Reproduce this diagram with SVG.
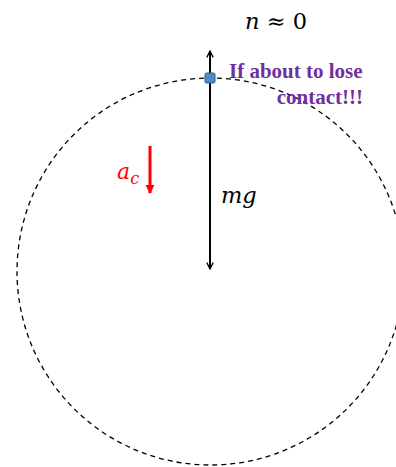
<svg xmlns="http://www.w3.org/2000/svg" width="396" height="467" viewBox="0 0 396 467">
<style>
.math{font-family:"DejaVu Serif","Liberation Serif",serif;font-style:italic}
.note{font-family:"Liberation Serif",serif;font-weight:bold;font-size:21px;fill:#7030A0}
</style>
<defs>
<marker id="chev" viewBox="0 0 10 10" refX="9" refY="5" markerWidth="8" markerHeight="8" orient="auto" markerUnits="userSpaceOnUse">
<path d="M1,1 L9,5 L1,9" fill="none" stroke="#000" stroke-width="1.6"/>
</marker>
<marker id="redhead" viewBox="0 0 10 10" refX="9" refY="5" markerWidth="9" markerHeight="9" orient="auto" markerUnits="userSpaceOnUse">
<path d="M0,0 L10,5 L0,10 Z" fill="#FF0000"/>
</marker>
</defs>
<g id="path-circle">
<circle cx="210.5" cy="271.5" r="193.5" fill="none" stroke="#000" stroke-width="1.3" stroke-dasharray="5,4"/>
</g>
<g id="connectors">
<line x1="210" y1="78" x2="210" y2="51" stroke="#000" stroke-width="2" marker-end="url(#chev)"/>
<line x1="210" y1="78" x2="210" y2="269" stroke="#000" stroke-width="2" marker-end="url(#chev)"/>
<line x1="150" y1="146" x2="150" y2="193" stroke="#FF0000" stroke-width="3" marker-end="url(#redhead)"/>
</g>
<g id="object">
<rect x="205" y="73" width="10" height="10" rx="1.5" fill="#4F8BC9" stroke="#2F5D8F" stroke-width="1"/>
</g>
<g id="label-n">
<text x="245" y="29" class="math" font-size="22.5" fill="#000">n <tspan font-style="normal">≈ 0</tspan></text>
</g>
<g id="label-note">
<text x="229" y="78" class="note">If about to lose</text>
<text x="363" y="104" class="note" text-anchor="end">contact!!!</text>
</g>
<g id="label-ac">
<text x="117" y="179" class="math" font-size="22" fill="#FF0000">a<tspan font-size="16" dy="5">c</tspan></text>
</g>
<g id="label-mg">
<text x="221" y="203" class="math" font-size="22.5" fill="#000">mg</text>
</g>
</svg>
